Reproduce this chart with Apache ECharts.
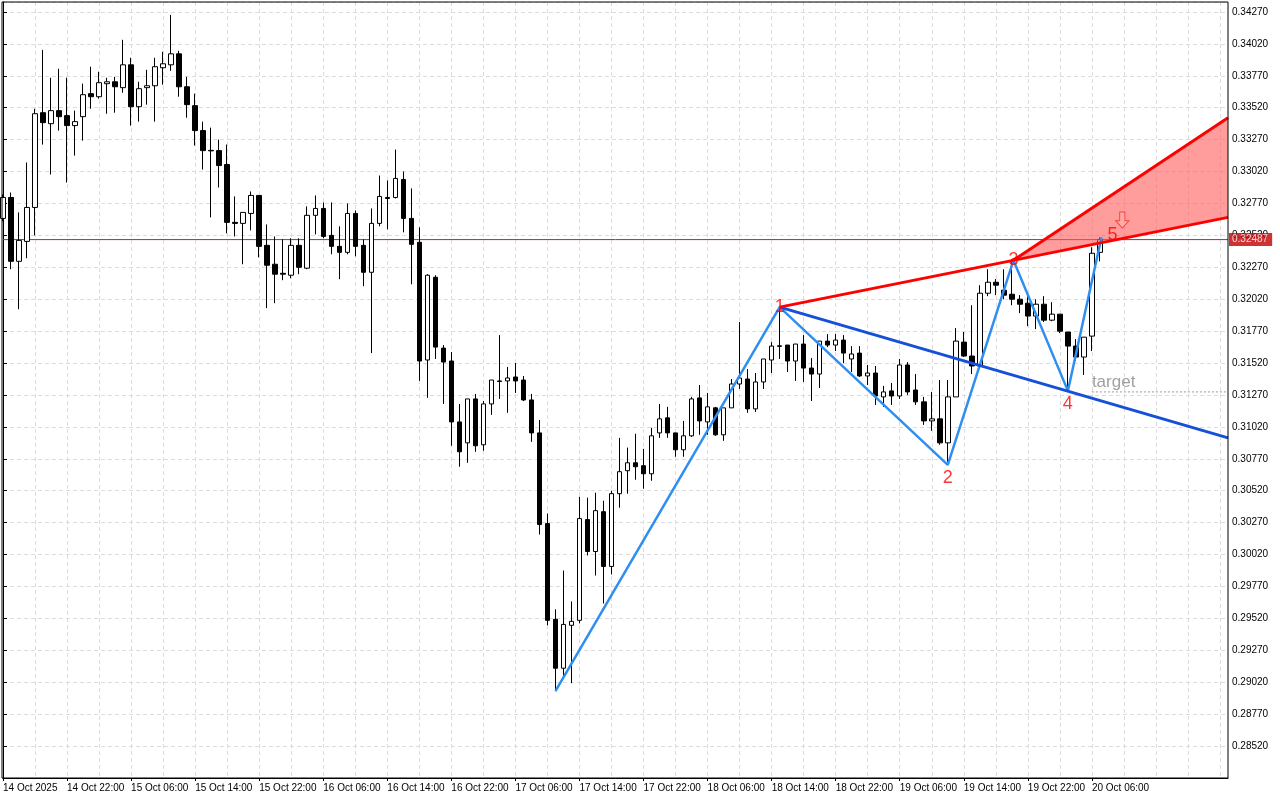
<!DOCTYPE html>
<html>
<head>
<meta charset="utf-8">
<script src="https://cdn.jsdelivr.net/npm/echarts@6/dist/echarts.min.js"></script>
<style>
html, body { margin: 0; padding: 0; background: #fff; }
#chart { width: 1280px; height: 800px; }
</style>
</head>
<body>
<div id="chart"></div>
<script>
// prices in 1e-5 units, H1 bars from 14 Oct 2025 14:00
var opens = [32653,32817,32317,32473,32739,33481,33395,33497,33458,33380,
33450,33630,33606,33708,33723,33677,33856,33528,33677,33692,
33833,33856,33942,33684,33536,33341,33186,33184,33075,32622,
32614,32692,32833,32442,32294,32223,32208,32442,32263,32677,
32731,32520,32434,32387,32692,32442,32231,32614,32817,32817,
32958,32653,32466,31544,32192,31637,31536,31059,30895,31239,
30880,31200,31380,31380,31411,31387,31231,30973,30263,29513,
29130,29466,29505,30294,30044,30356,29927,30497,30677,30739,
30716,30653,30973,31091,30973,30841,30950,31247,31059,31169,
30958,31169,31356,31395,31161,31372,31544,31655,31661,31536,
31669,31481,31434,31692,31661,31700,31552,31598,31419,31442,
31255,31302,31262,31505,31309,31216,31067,31083,30895,31255,
31684,31575,31497,32067,32153,32091,32059,32020,31989,31888,
31981,31856,31903,31763,31653,31567,31731,32387];
var closes = [32817,32317,32481,32739,33473,33403,33497,33450,33380,33411,
33622,33606,33716,33723,33684,33856,33528,33669,33692,33841,
33864,33942,33684,33544,33341,33184,33182,33067,32622,32614,
32700,32833,32434,32286,32216,32216,32442,32270,32677,32731,
32512,32434,32387,32692,32434,32231,32614,32825,32809,32966,
32653,32450,31536,32208,31645,31528,31059,30825,31239,30872,
31200,31387,31376,31403,31380,31231,30973,30255,29505,29130,
29473,29497,30302,30044,30364,29927,30497,30669,30739,30708,
30653,30950,31083,30973,30841,30950,31239,31067,31177,30958,
31169,31356,31403,31161,31372,31552,31653,31651,31536,31669,
31481,31434,31692,31661,31700,31598,31591,31419,31442,31262,
31294,31262,31505,31294,31216,31067,31083,30895,31255,31692,
31575,31497,32067,32153,32130,32052,32020,31981,31888,31981,
31856,31903,31770,31653,31567,31723,32380,32487];
var highs = [32841,32856,32700,33091,33512,33973,33755,33825,33755,33497,
33708,33841,33802,33755,33762,34052,33911,33723,33817,33911,
33958,34247,33966,33762,33630,33411,33364,33270,33231,32825,
32700,32864,32833,32606,32512,32489,32497,32497,32747,32833,
32778,32778,32591,32770,32716,32489,32731,32989,32950,33192,
33020,32888,32583,32216,32208,31661,31606,31200,31239,31278,
31223,31387,31739,31489,31520,31419,31278,31075,30341,29591,
29895,29653,30473,30466,30505,30442,30520,30934,30858,30966,
30848,31013,31200,31177,30973,31067,31255,31348,31286,31177,
31169,31395,31841,31473,31442,31552,31684,31958,31661,31669,
31739,31559,31692,31747,31747,31739,31653,31653,31505,31497,
31341,31364,31552,31528,31434,31255,31294,31387,31387,31794,
31763,31973,32130,32255,32178,32255,32333,32052,32044,32020,
32044,31997,31903,31763,31708,31723,32427,32505];
var lows = [32630,32255,31942,32341,32520,33231,32997,33341,32934,33145,
33262,33512,33591,33473,33481,33637,33380,33411,33544,33411,
33700,33809,33606,33442,33223,33036,32661,32895,32536,32512,
32294,32559,32348,31950,31989,32169,32184,32216,32255,32528,
32497,32372,32177,32372,32356,32122,31598,32591,32567,32809,
32544,32137,31380,31247,31552,31200,30872,30708,30739,30825,
30833,31114,31239,31130,31286,31223,30903,30177,29466,28950,
29052,29013,29481,30013,29856,29637,29864,30387,30497,30606,
30536,30598,30934,30934,30786,30786,30942,30958,30958,30950,
30911,31169,31317,31130,31137,31317,31442,31552,31450,31380,
31372,31223,31325,31645,31614,31520,31450,31411,31348,31192,
31177,31192,31239,31270,31192,31036,30989,30880,30747,31255,
31567,31434,31473,32044,32052,32020,31973,31911,31809,31786,
31841,31848,31755,31302,31536,31427,31614,32317];

var barCount = 154;
var yTicksMin = 28270, yMax = 34348, yStep = 250;
var lastPrice = 32487;

// wave 1..5 (bar index, price)
var waveX = [69, 97, 118, 126.2, 133, 137.2];
var waveY = [28950, 31958, 30723, 32325, 31302, 32505];
var waveNames = ['', '1', '2', '3', '4', '5'];
var blueLineX = [97, 153], blueLineY = [31958, 30934];
var redLowX = [97, 153], redLowY = [31958, 32661];
var redUpX = [126.2, 153], redUpY = [32325, 33442];
var zoneX = [126.2, 153, 153], zoneY = [32325, 33442, 32661];
var arrowX = 139.8, arrowY = 32640;
var targetX = [136, 153], targetY = [31294, 31294];
var targetLabelY = 31372;

var P = function (v) { return v / 100000; };

var months = ['Jan','Feb','Mar','Apr','May','Jun','Jul','Aug','Sep','Oct','Nov','Dec'];
var cats = [];
var t0 = Date.UTC(2025, 9, 14, 14);
for (var i = 0; i < barCount; i++) {
    var d = new Date(t0 + i * 3600000);
    var s = d.getUTCDate() + ' ' + months[d.getUTCMonth()] + ' ';
    cats.push(i === 0 ? s + d.getUTCFullYear() : s + ('0' + d.getUTCHours()).slice(-2) + ':00');
}
var lastBar = opens.length - 1;

var candles = opens.map(function (o, k) {
    return [P(o), P(closes[k]), P(lows[k]), P(highs[k])];
});
function pts(xs, ys) { return xs.map(function (x, k) { return [x, P(ys[k])]; }); }

var chart = echarts.init(document.getElementById('chart'));
var font = 'Liberation Sans';
var gridLine = { show: true, lineStyle: { color: '#dcdcdc', type: [4, 3], width: 1 } };
var labelEvery8 = function (idx) { return idx % 8 === 0 && idx <= lastBar; };

var option = {
    animation: false,
    backgroundColor: '#fff',
    grid: { left: 2, right: 52, top: 2, bottom: 22 },
    xAxis: [{
        type: 'category',
        data: cats,
        boundaryGap: false,
        axisLine: { show: true, lineStyle: { color: '#000' } },
        axisTick: { show: true, interval: labelEvery8, length: 3, lineStyle: { color: '#000' } },
        axisLabel: { interval: labelEvery8, align: 'left', color: '#000', fontSize: 10, fontFamily: font, margin: 5 },
        splitLine: Object.assign({ interval: 3 }, gridLine)
    }, {
        type: 'value', min: 0, max: barCount - 1, show: false
    }],
    yAxis: {
        type: 'value',
        position: 'right',
        min: P(yTicksMin), max: P(yMax), interval: P(yStep),
        axisLine: { show: true, lineStyle: { color: '#000' } },
        axisTick: { show: true, length: 4, lineStyle: { color: '#000' } },
        axisLabel: {
            color: '#000', fontSize: 10, fontFamily: font, margin: 4,
            showMinLabel: false, showMaxLabel: false,
            formatter: function (v) { return v.toFixed(5); }
        },
        splitLine: gridLine
    },
    graphic: [{
        type: 'rect', shape: { x: 2, y: 2, width: 1226, height: 776 },
        style: { fill: 'none', stroke: '#000', lineWidth: 1 }, z: 100, silent: true
    }],
    series: [{
        type: 'candlestick',
        data: candles,
        barWidth: 5,
        itemStyle: { color: '#fff', color0: '#000', borderColor: '#000', borderColor0: '#000', borderWidth: 1 },
        z: 2
    }, {
        // last price line
        type: 'line', xAxisIndex: 1, data: [[0, P(lastPrice)], [barCount - 1, P(lastPrice)]],
        symbol: 'none', z: 1, lineStyle: { color: '#8b3a3a', width: 1 }
    }, {
        type: 'scatter', xAxisIndex: 1, z: 8, symbolSize: 0, clip: false,
        data: [[barCount - 1, P(lastPrice)]],
        label: {
            show: true, position: 'right', distance: 1, color: '#fff', backgroundColor: '#c00000',
            padding: [2, 4, 1, 3], fontSize: 10, fontFamily: font,
            formatter: function (p) { return p.value[1].toFixed(5); }
        }
    }, {
        type: 'custom', xAxisIndex: 1, data: [0], z: 3,
        renderItem: function (params, api) {
            var poly = zoneX.map(function (x, k) { return api.coord([x, P(zoneY[k])]); });
            return { type: 'polygon', shape: { points: poly }, style: { fill: 'rgba(255,90,90,0.6)' } };
        }
    }, {
        type: 'line', xAxisIndex: 1, data: pts(waveX, waveY), symbol: 'none', z: 4,
        lineStyle: { color: '#2f8ff0', width: 2.5 }
    }, {
        type: 'line', xAxisIndex: 1, data: pts(blueLineX, blueLineY), symbol: 'none', z: 4,
        lineStyle: { color: '#1450d8', width: 3 }
    }, {
        type: 'line', xAxisIndex: 1, data: pts(redLowX, redLowY), symbol: 'none', z: 5,
        lineStyle: { color: '#ff0000', width: 3 }
    }, {
        type: 'line', xAxisIndex: 1, data: pts(redUpX, redUpY), symbol: 'none', z: 5,
        lineStyle: { color: '#ff0000', width: 3 }
    }, {
        type: 'line', xAxisIndex: 1, data: pts(targetX, targetY), symbol: 'none', z: 4,
        lineStyle: { color: '#999', width: 1, type: [2, 2] }
    }, {
        type: 'scatter', xAxisIndex: 1, z: 6, symbolSize: 0,
        data: waveX.map(function (x, k) {
            var pos = (k === 2 || k === 4) ? 'bottom' : (k === 5 ? 'insideLeft' : 'inside');
            return { value: [x, P(waveY[k])], label: { position: pos, offset: k === 5 ? [2, -2] : [0, 0] } };
        }),
        label: {
            show: true, color: '#ff0000', fontSize: 18, fontFamily: 'Liberation Sans', distance: 4,
            formatter: function (p) { return waveNames[p.dataIndex]; }
        }
    }, {
        type: 'scatter', xAxisIndex: 1, z: 6, symbolSize: 0,
        data: [[targetX[0], P(targetLabelY)]],
        label: { show: true, position: 'right', distance: 0, color: '#888', fontSize: 17, fontFamily: 'Liberation Sans',
            formatter: 'target' }
    }, {
        type: 'scatter', xAxisIndex: 1, z: 7,
        data: [[arrowX, P(arrowY)]],
        symbol: 'path://M3,0 L7,0 L7,6 L10,6 L5,11 L0,6 L3,6 Z',
        symbolSize: [13, 16],
        itemStyle: { color: '#ffb0a8', borderColor: '#ff2020', borderWidth: 1 }
    }]
};
chart.setOption(option);
</script>
</body>
</html>
